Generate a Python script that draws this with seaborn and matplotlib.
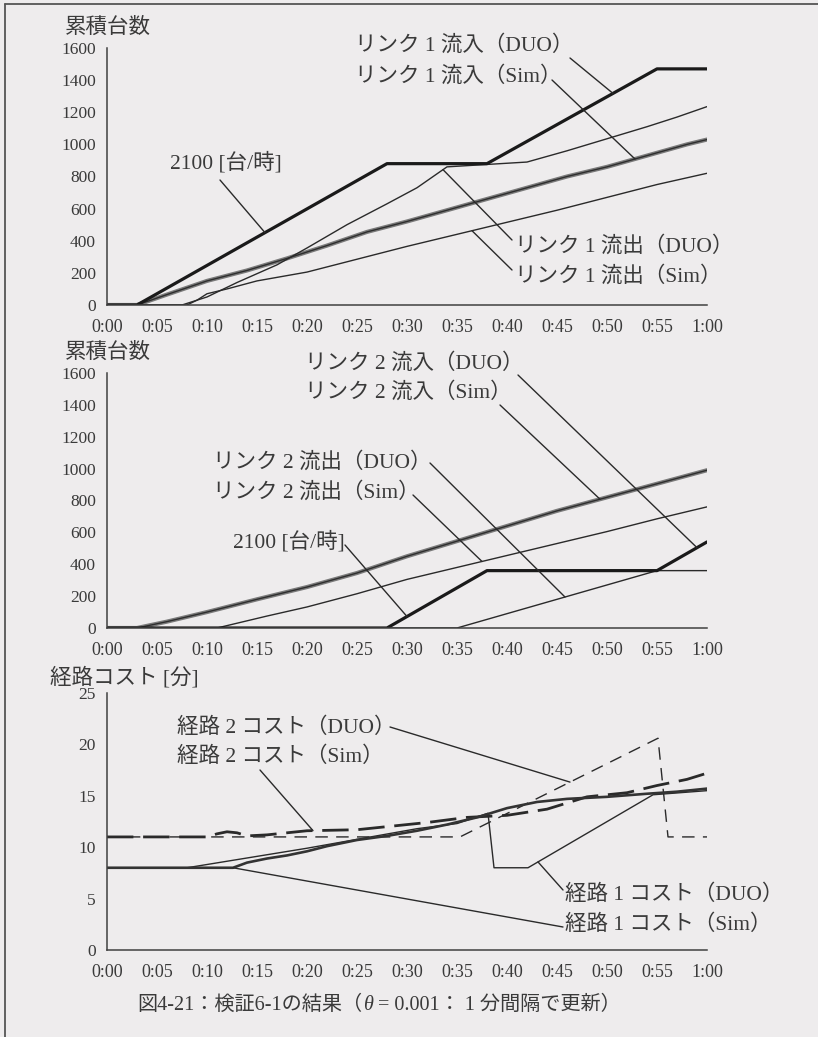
import numpy as np
import matplotlib
matplotlib.use("Agg")
import matplotlib.pyplot as plt
from matplotlib.lines import Line2D
import seaborn as sns

# ---------------------------------------------------------------
# Time axis in minutes (0:00 .. 1:00)
# ---------------------------------------------------------------
x_ticks = [0, 5, 10, 15, 20, 25, 30, 35, 40, 45, 50, 55, 60]
x_labels = ["0:00", "0:05", "0:10", "0:15", "0:20", "0:25", "0:30",
            "0:35", "0:40", "0:45", "0:50", "0:55", "1:00"]
count_ticks = [0, 200, 400, 600, 800, 1000, 1200, 1400, 1600]
cost_ticks = [0, 5, 10, 15, 20, 25]

# --- link 1 cumulative vehicles
l1_in_duo_t = [0, 3, 28, 38, 55, 60]
l1_in_duo_v = [0, 0, 880, 880, 1470, 1470]
l1_in_sim_t = [0, 3, 6, 10, 14, 18, 22, 26, 30, 34, 38, 42, 46, 50, 54, 58, 60]
l1_in_sim_v = [0, 0, 65, 150, 215, 290, 370, 455, 520, 590, 660, 730, 800, 860, 930, 1000, 1030]
l1_out_duo_t = [0, 7.5, 10, 13, 17, 20, 24, 28, 31, 34, 38, 42, 46, 50, 54, 57, 60]
l1_out_duo_v = [0, 0, 50, 140, 250, 355, 500, 630, 730, 860, 875, 890, 960, 1035, 1110, 1170, 1235]
l1_out_sim_t = [0, 8, 9, 10, 12, 15, 20, 25, 30, 35, 40, 45, 50, 55, 60]
l1_out_sim_v = [0, 0, 30, 70, 100, 150, 205, 285, 365, 440, 515, 590, 670, 750, 820]

# --- link 2 cumulative vehicles
l2_in_duo_t = [0, 28, 38, 55, 60]
l2_in_duo_v = [0, 0, 360, 360, 540]
l2_in_sim_t = [0, 3, 6, 10, 15, 20, 25, 30, 35, 40, 45, 50, 55, 60]
l2_in_sim_v = [0, 0, 40, 100, 180, 257, 345, 450, 545, 640, 735, 820, 905, 990]
l2_out_duo_t = [0, 35, 55, 60]
l2_out_duo_v = [0, 0, 360, 360]
l2_out_sim_t = [0, 11, 13, 16, 20, 25, 30, 35, 40, 45, 50, 55, 60]
l2_out_sim_v = [0, 0, 30, 75, 132, 215, 305, 380, 455, 530, 605, 685, 760]

# --- route costs [min]
r2_duo_t = [0, 35.3, 55.1, 56.1, 60]
r2_duo_v = [11, 11, 20.6, 11, 11]
r2_sim_t = [0, 10, 11, 12, 13, 14, 16, 20, 25, 28, 32, 36, 40, 44, 48, 52, 55, 58, 60]
r2_sim_v = [11, 11, 11.3, 11.5, 11.4, 11.1, 11.2, 11.6, 11.7, 12.0, 12.4, 12.9, 13.1, 13.7, 14.9, 15.3, 16.0, 16.6, 17.2]
r1_duo_t = [0, 8, 20, 31, 35, 38.1, 38.7, 42.1, 54.6, 60]
r1_duo_v = [8, 8, 9.9, 11.8, 12.3, 13.3, 8.0, 8.0, 15.1, 15.5]
r1_sim_t = [0, 12.6, 14, 16, 18, 20, 22, 25, 28, 31, 34, 37, 40, 43, 46, 50, 54, 57, 60]
r1_sim_v = [8, 8, 8.5, 8.9, 9.2, 9.6, 10.1, 10.7, 11.1, 11.6, 12.2, 12.9, 13.8, 14.4, 14.7, 14.9, 15.2, 15.4, 15.7]

caption_parts = ["図4-21：検証6-1の結果（", "θ", " = 0.001： 1 分間隔で更新）"]

# ---------------------------------------------------------------
BG = "#eeeced"
INK = "#2a2a2a"
TXT = "#3a3a3a"
W, H = 818, 1037
LABEL_SIZE = 15.5

sns.set_theme(style="white", rc={
    "axes.facecolor": BG, "figure.facecolor": BG, "savefig.facecolor": BG,
    "lines.scale_dashes": False,
})
plt.rcParams["font.family"] = ["Liberation Serif", "Noto Sans CJK JP"]

fig = plt.figure(figsize=(W / 100, H / 100), dpi=100)


def fx(px):
    return px / W


def fy(py):
    return 1 - py / H


def panel(y_zero, y_top, ymax, yticks):
    ax = fig.add_axes([fx(107), fy(y_zero), (707 - 107) / W, (y_zero - y_top) / H])
    ax.set_facecolor(BG)
    ax.set_xlim(0, 60)
    ax.set_ylim(0, ymax)
    ax.set_xticks(x_ticks)
    ax.set_xticklabels(x_labels)
    ax.set_yticks(yticks)
    ax.set_yticklabels([str(v) for v in yticks])
    for s in ("top", "right"):
        ax.spines[s].set_visible(False)
    for s in ("left", "bottom"):
        ax.spines[s].set_color("#404040")
        ax.spines[s].set_linewidth(1.1)
    ax.tick_params(axis="both", direction="in", length=4, width=1.0,
                   color="#404040", labelcolor=TXT)
    ax.tick_params(axis="x", pad=10, labelsize=13)
    ax.tick_params(axis="y", pad=8, labelsize=12.5)
    ax.set_xlabel("")
    ax.set_ylabel("")
    return ax


def line(ax, ts, vs, lw, color=INK, ls="-"):
    sns.lineplot(x=ts, y=vs, ax=ax, color=color, linewidth=lw, linestyle=ls,
                 estimator=None, sort=False, legend=False)


def gray_line(ax, ts, vs):
    line(ax, ts, vs, 3.0, color="#7a7a7a")
    line(ax, ts, vs, 1.0, color="#2e2e2e")


def label(px, py, s, size=LABEL_SIZE):
    fig.text(fx(px), fy(py), s, fontsize=size, color=TXT, ha="left", va="center")


def leader(ax, start, t, ts, vs):
    v = float(np.interp(t, ts, vs))
    ax.annotate("", xy=(t, v), xycoords="data",
                xytext=(fx(start[0]), fy(start[1])), textcoords="figure fraction",
                arrowprops=dict(arrowstyle="-", color=INK, lw=1.0,
                                shrinkA=0, shrinkB=0),
                annotation_clip=False)


# ---------------- panel 1 : link 1 ----------------
ax1 = panel(305, 48, 1600, count_ticks)
gray_line(ax1, l1_in_sim_t, l1_in_sim_v)
line(ax1, l1_out_duo_t, l1_out_duo_v, 1.0)
line(ax1, l1_out_sim_t, l1_out_sim_v, 1.0)
line(ax1, l1_in_duo_t, l1_in_duo_v, 2.3, color="#1a1a1a")

label(65, 28, "累積台数", 15.5)
label(355, 45, "リンク 1 流入（DUO）")
label(355, 76, "リンク 1 流入（Sim）")
label(515, 246, "リンク 1 流出（DUO）")
label(515, 276, "リンク 1 流出（Sim）")
label(170, 163, "2100 [台/時]")
leader(ax1, (570, 58), 50.6, l1_in_duo_t, l1_in_duo_v)
leader(ax1, (552, 80), 52.8, l1_in_sim_t, l1_in_sim_v)
leader(ax1, (512, 240), 33.6, l1_out_duo_t, l1_out_duo_v)
leader(ax1, (512, 270), 36.5, l1_out_sim_t, l1_out_sim_v)
leader(ax1, (220, 180), 15.8, l1_in_duo_t, l1_in_duo_v)

# ---------------- panel 2 : link 2 ----------------
ax2 = panel(628, 373, 1600, count_ticks)
gray_line(ax2, l2_in_sim_t, l2_in_sim_v)
line(ax2, l2_out_sim_t, l2_out_sim_v, 1.0)
line(ax2, l2_out_duo_t, l2_out_duo_v, 1.0)
line(ax2, l2_in_duo_t, l2_in_duo_v, 2.3, color="#1a1a1a")

label(65, 353, "累積台数", 15.5)
label(305, 363, "リンク 2 流入（DUO）")
label(305, 392, "リンク 2 流入（Sim）")
label(213, 462, "リンク 2 流出（DUO）")
label(213, 492, "リンク 2 流出（Sim）")
label(233, 542, "2100 [台/時]")
leader(ax2, (518, 375), 59.0, l2_in_duo_t, l2_in_duo_v)
leader(ax2, (500, 405), 49.3, l2_in_sim_t, l2_in_sim_v)
leader(ax2, (430, 463), 45.8, l2_out_duo_t, l2_out_duo_v)
leader(ax2, (413, 495), 37.5, l2_out_sim_t, l2_out_sim_v)
leader(ax2, (345, 545), 30.0, l2_in_duo_t, l2_in_duo_v)

# ---------------- panel 3 : route costs ----------------
ax3 = panel(950, 693, 25, cost_ticks)
line(ax3, r2_duo_t, r2_duo_v, 1.0, ls=(0, (9, 6)))
line(ax3, r2_sim_t, r2_sim_v, 2.0, ls=(0, (19, 7)))
line(ax3, r1_duo_t, r1_duo_v, 1.0)
line(ax3, r1_sim_t, r1_sim_v, 1.9, color="#333333")

label(50, 678, "経路コスト [分]", 15.5)
label(177, 728, "経路 2 コスト（DUO）")
label(177, 757, "経路 2 コスト（Sim）")
label(565, 895, "経路 1 コスト（DUO）")
label(565, 925, "経路 1 コスト（Sim）")
leader(ax3, (390, 727), 46.3, r2_duo_t, r2_duo_v)
leader(ax3, (260, 770), 20.6, r2_sim_t, r2_sim_v)
leader(ax3, (563, 890), 43.1, r1_duo_t, r1_duo_v)
leader(ax3, (563, 927), 12.6, r1_sim_t, r1_sim_v)

# ---------------- page frame ----------------
fig.add_artist(Line2D([fx(5), fx(5)], [fy(4), 0], color="#555555", lw=1.3))
fig.add_artist(Line2D([fx(5), 1], [fy(4), fy(4)], color="#555555", lw=1.3))

# ---------------- caption ----------------
renderer = fig.canvas.get_renderer()
parts = []
for i, s in enumerate(caption_parts):
    t = fig.text(0, fy(1005), s, fontsize=14.5, color=TXT, ha="left", va="center",
                 style="italic" if s == "θ" else "normal")
    parts.append(t)
widths = [p.get_window_extent(renderer).width for p in parts]
x = 379 - sum(widths) / 2
for p, w in zip(parts, widths):
    p.set_x(fx(x))
    x += w

fig.savefig("out.png", dpi=100)
